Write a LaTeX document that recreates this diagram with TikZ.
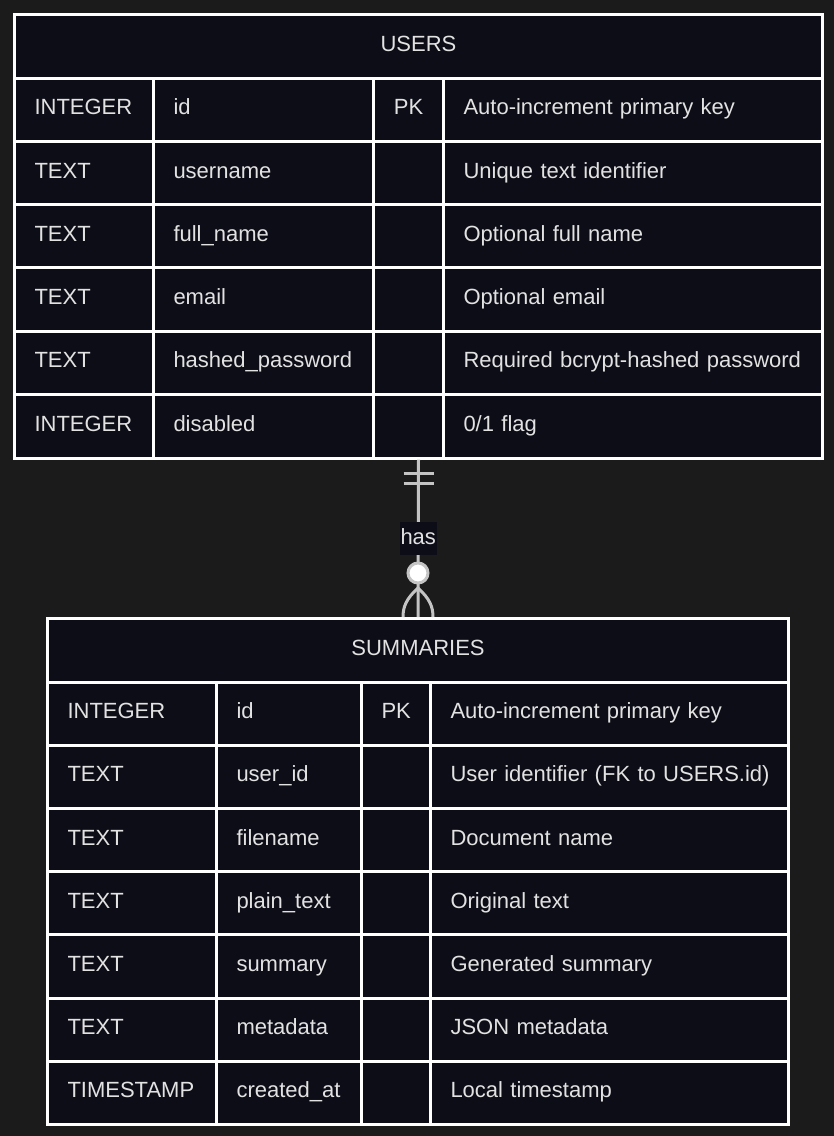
\documentclass[tikz,border=0pt]{standalone}
\usepackage{fontspec}
\setmainfont{Liberation Sans}
\definecolor{bgcol}{HTML}{1B1B1B}
\definecolor{tabfill}{HTML}{0D0D17}
\definecolor{cellink}{HTML}{E2E2E2}
\definecolor{relgray}{HTML}{C4C4C4}
\tikzset{
	cell/.style 2 args={draw=white, line width=3pt, fill=tabfill, text=cellink,
		anchor=north west, minimum height=63.5pt, minimum width=#1pt, text width=#2pt,
		inner xsep=20pt, inner ysep=0pt, align=left, text height=15pt, text depth=5pt,
		font=\fontsize{22}{26}\selectfont},
	relline/.style={draw=relgray, line width=3pt},
	labelbox/.style={fill=tabfill, text=cellink, inner xsep=1pt, inner ysep=8pt,
		text height=15pt, text depth=2pt, font=\fontsize{22}{26}\selectfont}
}
\begin{document}
\begin{tikzpicture}[x=1pt,y=-1pt]
	\useasboundingbox[fill=bgcol](0,0) rectangle (834,1136);
	% USERS table
	\node[cell={808}{768}, align=center] (users) at (13,13) {USERS};
	\foreach \t/\n/\k/\d [count=\i] in {INTEGER/id/PK/Auto-increment primary key,
		TEXT/username/{}/Unique text identifier,
		TEXT/full\_name/{}/Optional full name,
		TEXT/email/{}/Optional email,
		TEXT/hashed\_password/{}/Required bcrypt-hashed password,
		INTEGER/disabled/{}/{0/1 flag}}{
		\pgfmathsetmacro\y{76.5+(\i-1)*63.3}
		\node[cell={139}{99}] (ut\i) at (13,\y) {\t};
		\node[cell={220}{180}] (un\i) at (152,\y) {\mbox{\n}};
		\node[cell={70}{30}, align=center] (uk\i) at (372,\y) {\k};
		\node[cell={379}{339}] (ud\i) at (442,\y) {\mbox{\d}};
	}
	% SUMMARIES table
	\node[cell={741}{701}, align=center] (sums) at (46,617) {SUMMARIES};
	\foreach \t/\n/\k/\d [count=\i] in {INTEGER/id/PK/Auto-increment primary key,
		TEXT/user\_id/{}/User identifier (FK to USERS.id),
		TEXT/filename/{}/Document name,
		TEXT/plain\_text/{}/Original text,
		TEXT/summary/{}/Generated summary,
		TEXT/metadata/{}/JSON metadata,
		TIMESTAMP/created\_at/{}/Local timestamp}{
		\pgfmathsetmacro\y{680.5+(\i-1)*63.2}
		\node[cell={169}{129}] (st\i) at (46,\y) {\mbox{\t}};
		\node[cell={145}{105}] (sn\i) at (215,\y) {\mbox{\n}};
		\node[cell={69}{29}, align=center] (sk\i) at (360,\y) {\k};
		\node[cell={358}{318}] (sd\i) at (429,\y) {\mbox{\d}};
	}
	% relation
	\coordinate (ubot) at (users.south |- uk6.south);
	\draw[relline] (ubot) -- (sums.north);
	\draw[relline] ([shift={(-15,14)}]ubot) -- ++(30,0);
	\draw[relline] ([shift={(-15,24)}]ubot) -- ++(30,0);
	\draw[relline] ([yshift=29pt]sums.north) .. controls +(-12,11) and +(0,-10) .. ([xshift=-15pt]sums.north);
	\draw[relline] ([yshift=29pt]sums.north) .. controls +(12,11) and +(0,-10) .. ([xshift=15pt]sums.north);
	\draw[relline, fill=white] ([yshift=44pt]sums.north) circle (10pt);
	\path (ubot) -- (sums.north) node[midway, labelbox] (has) {has};
\end{tikzpicture}
\end{document}
